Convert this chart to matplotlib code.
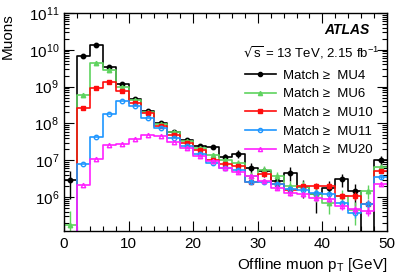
import numpy as np
import matplotlib
matplotlib.use('Agg')
import matplotlib.pyplot as plt
from matplotlib.ticker import MultipleLocator, LogLocator, NullFormatter

plt.rcParams['font.family'] = ['Liberation Sans', 'DejaVu Sans']

# binning: 2 GeV bins from 0 to 50 GeV
edges = np.arange(0, 52, 2)

labels = ['Match \u2265  MU4', 'Match \u2265  MU6', 'Match \u2265  MU10',
          'Match \u2265  MU11', 'Match \u2265  MU20']

mu4 = [3e6, 6.8e9, 1.35e10, 3.5e9, 1.2e9, 4.5e8, 2.2e8, 1.0e8, 6.0e7, 3.6e7,
       2.5e7, 2.3e7, 1.25e7, 1.5e7, 6.2e6, 5.0e6, 2.7e6, 4.6e6, 1.9e6, 1.2e6,
       1.8e6, 3.1e6, 1.45e6, 0, 1.0e7]
mu6 = [1.7e5, 6.1e8, 4.3e9, 2.8e9, 9.5e8, 4.2e8, 2.1e8, 9.5e7, 5.8e7, 3.3e7,
       2.2e7, 1.4e7, 1.0e7, 8.5e6, 3.7e6, 5.5e6, 3.7e6, 2.0e6, 1.9e6, 1.25e6,
       6.9e5, 1.1e6, 4.5e5, 1.5e6, 6.6e6]
mu10 = [0, 2.7e8, 9.0e8, 1.3e9, 7.5e8, 3.7e8, 1.9e8, 8.5e7, 5.0e7, 2.9e7,
        1.9e7, 1.0e7, 8.0e6, 7.0e6, 2.6e6, 4.3e6, 2.2e6, 1.6e6, 2.0e6, 2.0e6,
        2.0e6, 1.1e6, 1.1e6, 6.5e5, 5.1e6]
mu11 = [0, 7.9e6, 4.4e7, 1.8e8, 4.0e8, 2.9e8, 1.45e8, 7.6e7, 4.0e7, 2.4e7,
        1.5e7, 8.5e6, 6.2e6, 5.5e6, 2.6e6, 2.5e6, 2.2e6, 1.7e6, 1.6e6, 1.3e6,
        1.2e6, 7.0e5, 3.6e5, 6.5e5, 3.5e6]
mu20 = [0, 2.1e6, 1.1e7, 2.6e7, 2.8e7, 3.8e7, 4.9e7, 4.7e7, 3.2e7, 2.2e7,
        1.3e7, 9.6e6, 6.2e6, 4.8e6, 3.7e6, 2.8e6, 1.8e6, 1.3e6, 1.2e6, 9.4e5,
        8.8e5, 5.6e5, 4.7e5, 4.2e5, 2.2e6]

# relative uncertainties
rel4 = [0.7, 0, 0, 0, 0, 0, 0, 0, 0, 0.05, 0.1, 0.12, 0.2, 0.25, 0.35, 0.3,
        0.4, 0.4, 0.5, 0.7, 0.5, 0.4, 0.6, 0, 0.3]
rel6 = [1.5, 0, 0, 0, 0, 0, 0, 0, 0, 0.05, 0.08, 0.1, 0.15, 0.2, 0.3, 0.3,
        0.3, 0.4, 0.4, 0.4, 0.5, 0.4, 0.6, 0.4, 0.2]
rel_small = [0, 0, 0, 0, 0, 0, 0, 0, 0, 0.03, 0.05, 0.06, 0.08, 0.1, 0.12,
             0.12, 0.15, 0.15, 0.15, 0.18, 0.18, 0.2, 0.25, 0.25, 0.1]

series = [
    (mu4, rel4, 'black', 'o', 'black'),
    (mu6, rel6, '#5fd35f', '^', '#5fd35f'),
    (mu10, rel_small, '#ff0d0d', 's', '#ff0d0d'),
    (mu11, rel_small, '#1e96ff', 'o', 'none'),
    (mu20, rel_small, '#ff20ff', '^', 'none'),
]

fig = plt.figure(figsize=(4.07, 2.76), dpi=100)
ax = fig.add_axes([0.157, 0.163, 0.794, 0.79])

centers = 0.5 * (edges[:-1] + edges[1:])
handles = []
for vals, rel, col, mk, fc in series:
    v = np.array(vals, dtype=float)
    ax.step(edges, np.append(v, v[-1]), where='post', color=col, lw=1.2)
    m = v > 0
    err = v * np.array(rel)
    lo = np.minimum(err, v * 0.999)
    ax.errorbar(centers[m], v[m], yerr=[lo[m], err[m]], fmt='none',
                ecolor=col, elinewidth=1.0, capsize=0)
    ax.plot(centers[m], v[m], ls='none', marker=mk, ms=3.2,
            color=col, mfc=fc, mec=col, mew=1.0)
    handles.append(plt.Line2D([], [], color=col, lw=1.2, marker=mk, ms=3,
                              mfc=fc, mec=col, mew=1.0))

ax.set_yscale('log')
ax.set_xlim(0, 50)
ax.set_ylim(1.2e5, 1e11)

ax.xaxis.set_major_locator(MultipleLocator(10))
ax.xaxis.set_minor_locator(MultipleLocator(2))
ax.yaxis.set_major_locator(LogLocator(base=10, numticks=20))
ax.yaxis.set_minor_locator(LogLocator(base=10, subs=np.arange(2, 10), numticks=20))
ax.yaxis.set_minor_formatter(NullFormatter())
ax.tick_params(which='both', direction='in', top=True, right=True,
               labelsize=11, width=0.8)
ax.tick_params(which='major', length=7)
ax.tick_params(which='minor', length=3.5)
ax.tick_params(axis='x', pad=4)
for s in ax.spines.values():
    s.set_linewidth(1.0)

ax.set_xlabel('Offline muon p$_\\mathregular{T}$ [GeV]', fontsize=11, loc='right')
ax.set_ylabel('Muons', fontsize=11, loc='top', labelpad=10)

ax.text(0.945, 0.92, 'ATLAS', transform=ax.transAxes, ha='right', va='center',
        fontsize=10, fontweight='bold', fontstyle='italic')
ax.text(0.975, 0.82, '$\\sqrt{\\mathregular{s}}$ = 13 TeV, 2.15 fb$^{\\mathregular{-1}}$',
        transform=ax.transAxes, ha='right', va='center', fontsize=9.5)

ax.legend(handles, labels, loc='upper right', bbox_to_anchor=(0.955, 0.74),
          frameon=False, fontsize=9.5, handlelength=2.4, handletextpad=0.5,
          labelspacing=0.48, borderaxespad=0, borderpad=0)

fig.savefig('out.png', dpi=100)
